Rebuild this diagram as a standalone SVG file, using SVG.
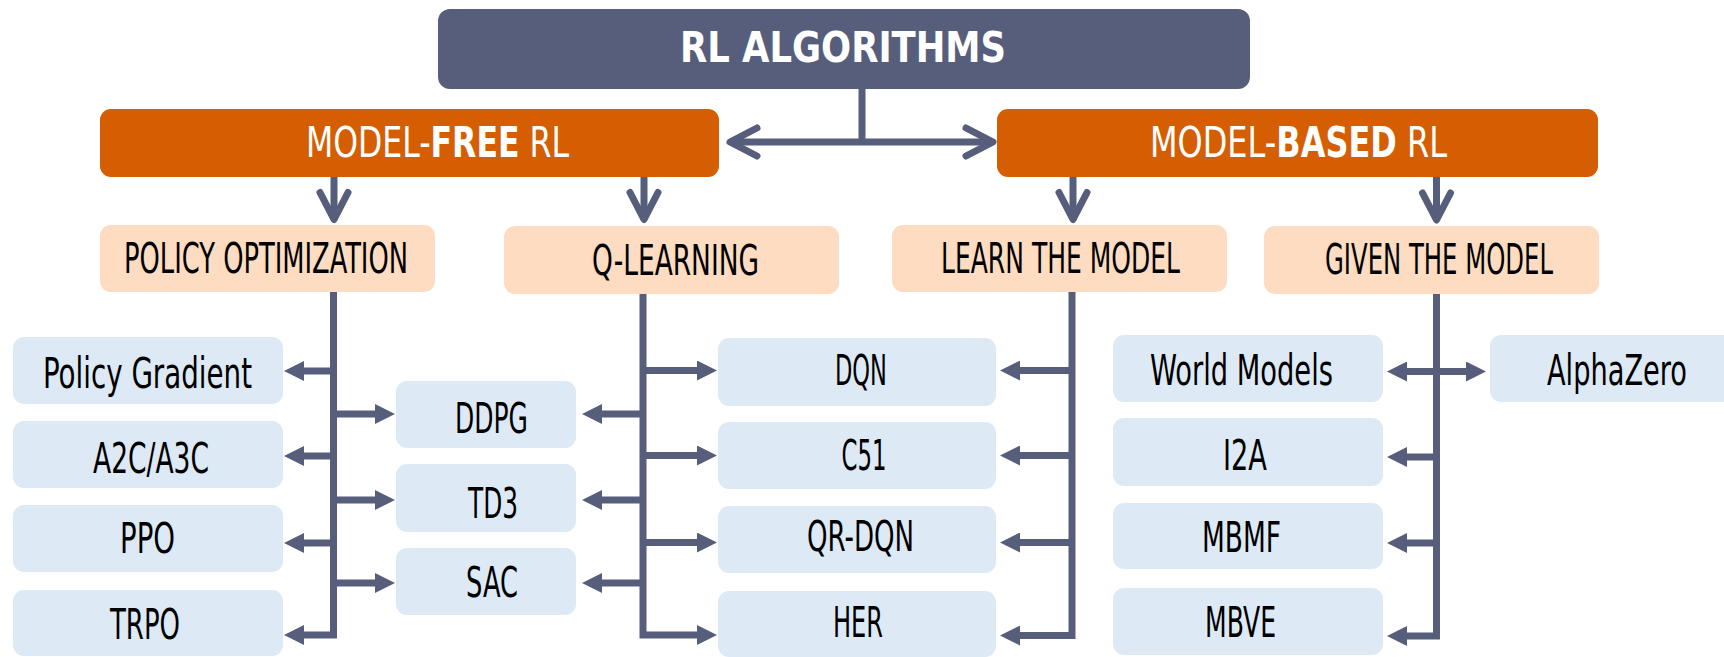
<svg xmlns="http://www.w3.org/2000/svg" width="1724" height="657" viewBox="0 0 1724 657">
  <style>
    .root { fill: #575e7b; }
    .family { fill: #d55e02; }
    .cat { fill: #fddcc1; }
    .leaf { fill: #ddeaf6; }
    text { font-family: "Liberation Sans Narrow", "DejaVu Sans Condensed", "Liberation Sans", sans-serif; font-size: 42px; }
    .t-root { fill: #ffffff; font-weight: 900; }
    .t-fam { fill: #ffffff; font-weight: 400; }
    .b { font-weight: 900; }
    .t-cat, .t-leaf { fill: #000000; font-weight: 400; }
    .link { fill: none; stroke: #575e7b; stroke-width: 7; stroke-linejoin: miter; }
    .thin { fill: none; stroke: #575e7b; stroke-width: 7; }
  </style>
  <defs>
    <!-- filled triangular head for branch arrows -->
    <marker id="head" markerUnits="userSpaceOnUse" markerWidth="20" markerHeight="20" refX="1" refY="10" orient="auto-start-reverse">
      <path d="M0,0 L20,10 L0,20 z" fill="#575e7b"/>
    </marker>
    <!-- open chevron head for the upper links -->
    <marker id="chev" markerUnits="userSpaceOnUse" markerWidth="40" markerHeight="40" refX="0" refY="0" orient="auto-start-reverse" overflow="visible">
      <path d="M-27,-14 L0,0 L-27,14" fill="none" stroke="#575e7b" stroke-width="7" stroke-linecap="round" stroke-linejoin="round"/>
    </marker>
  </defs>

  <!-- connectors -->
  <g id="connectors">
    <!-- root to the two families -->
    <path class="thin" d="M862,89 V142"/>
    <path class="thin" d="M730,142 H993" marker-start="url(#chev)" marker-end="url(#chev)"/>
    <!-- families to categories -->
    <path class="thin" d="M334,177 V219.5" marker-end="url(#chev)"/>
    <path class="thin" d="M644,177 V219.5" marker-end="url(#chev)"/>
    <path class="thin" d="M1073,177 V219.5" marker-end="url(#chev)"/>
    <path class="thin" d="M1436.5,177 V220" marker-end="url(#chev)"/>

    <!-- policy optimization trunk -->
    <path class="link" d="M333.5,292 V635 H303" marker-end="url(#head)"/>
    <path class="link" d="M333.5,371 H303" marker-end="url(#head)"/>
    <path class="link" d="M333.5,456 H303" marker-end="url(#head)"/>
    <path class="link" d="M333.5,543 H303" marker-end="url(#head)"/>
    <path class="link" d="M333.5,414 H376" marker-end="url(#head)"/>
    <path class="link" d="M333.5,500 H376" marker-end="url(#head)"/>
    <path class="link" d="M333.5,583 H376" marker-end="url(#head)"/>

    <!-- q-learning trunk -->
    <path class="link" d="M643,294 V635 H698" marker-end="url(#head)"/>
    <path class="link" d="M643,414 H601" marker-end="url(#head)"/>
    <path class="link" d="M643,500 H601" marker-end="url(#head)"/>
    <path class="link" d="M643,583 H601" marker-end="url(#head)"/>
    <path class="link" d="M643,370.5 H698" marker-end="url(#head)"/>
    <path class="link" d="M643,455.5 H698" marker-end="url(#head)"/>
    <path class="link" d="M643,542.5 H698" marker-end="url(#head)"/>

    <!-- learn-the-model trunk -->
    <path class="link" d="M1072,292 V635.5 H1019" marker-end="url(#head)"/>
    <path class="link" d="M1072,370.5 H1019" marker-end="url(#head)"/>
    <path class="link" d="M1072,455.5 H1019" marker-end="url(#head)"/>
    <path class="link" d="M1072,542.5 H1019" marker-end="url(#head)"/>

    <!-- given-the-model trunk -->
    <path class="link" d="M1436.5,294 V636 H1406" marker-end="url(#head)"/>
    <path class="link" d="M1406,371.5 H1467" marker-start="url(#head)" marker-end="url(#head)"/>
    <path class="link" d="M1436.5,457 H1406" marker-end="url(#head)"/>
    <path class="link" d="M1436.5,543 H1406" marker-end="url(#head)"/>
  </g>

  <!-- root -->
  <g id="rl-algorithms">
    <rect class="root" x="438" y="9" width="812" height="80" rx="12"/>
    <text class="t-root" x="843" y="62" text-anchor="middle" textLength="326" lengthAdjust="spacingAndGlyphs">RL ALGORITHMS</text>
  </g>

  <!-- families -->
  <g id="model-free">
    <rect class="family" x="100" y="109" width="619" height="68" rx="11"/>
    <text class="t-fam" x="437.5" y="157" text-anchor="middle" textLength="263" lengthAdjust="spacingAndGlyphs">MODEL-<tspan class="b">FREE</tspan> RL</text>
  </g>
  <g id="model-based">
    <rect class="family" x="997" y="109" width="601" height="68" rx="11"/>
    <text class="t-fam" x="1298.5" y="157" text-anchor="middle" textLength="297" lengthAdjust="spacingAndGlyphs">MODEL-<tspan class="b">BASED</tspan> RL</text>
  </g>

  <!-- categories -->
  <g id="policy-optimization">
    <rect class="cat" x="100" y="225" width="335" height="67" rx="11"/>
    <text class="t-cat" x="266" y="273" text-anchor="middle" textLength="284" lengthAdjust="spacingAndGlyphs">POLICY OPTIMIZATION</text>
  </g>
  <g id="q-learning">
    <rect class="cat" x="504" y="226" width="335" height="68" rx="11"/>
    <text class="t-cat" x="675.5" y="275" text-anchor="middle" textLength="167" lengthAdjust="spacingAndGlyphs">Q-LEARNING</text>
  </g>
  <g id="learn-the-model">
    <rect class="cat" x="892" y="225" width="335" height="67" rx="11"/>
    <text class="t-cat" x="1060.5" y="273" text-anchor="middle" textLength="239" lengthAdjust="spacingAndGlyphs">LEARN THE MODEL</text>
  </g>
  <g id="given-the-model">
    <rect class="cat" x="1264" y="226" width="335" height="68" rx="11"/>
    <text class="t-cat" x="1439" y="274" text-anchor="middle" textLength="228" lengthAdjust="spacingAndGlyphs">GIVEN THE MODEL</text>
  </g>

  <!-- policy optimization leaves -->
  <g id="policy-gradient">
    <rect class="leaf" x="13" y="337" width="270" height="67" rx="11"/>
    <text class="t-leaf" x="147.5" y="388" text-anchor="middle" textLength="209" lengthAdjust="spacingAndGlyphs">Policy Gradient</text>
  </g>
  <g id="a2c-a3c">
    <rect class="leaf" x="13" y="421" width="270" height="67" rx="11"/>
    <text class="t-leaf" x="151" y="473" text-anchor="middle" textLength="116" lengthAdjust="spacingAndGlyphs">A2C/A3C</text>
  </g>
  <g id="ppo">
    <rect class="leaf" x="13" y="505" width="270" height="67" rx="11"/>
    <text class="t-leaf" x="147.5" y="553" text-anchor="middle" textLength="55" lengthAdjust="spacingAndGlyphs">PPO</text>
  </g>
  <g id="trpo">
    <rect class="leaf" x="13" y="590" width="270" height="66" rx="11"/>
    <text class="t-leaf" x="145" y="639" text-anchor="middle" textLength="70" lengthAdjust="spacingAndGlyphs">TRPO</text>
  </g>

  <!-- shared actor-critic leaves -->
  <g id="ddpg">
    <rect class="leaf" x="396" y="381" width="180" height="67" rx="11"/>
    <text class="t-leaf" x="491.5" y="433" text-anchor="middle" textLength="73" lengthAdjust="spacingAndGlyphs">DDPG</text>
  </g>
  <g id="td3">
    <rect class="leaf" x="396" y="464" width="180" height="68" rx="11"/>
    <text class="t-leaf" x="493" y="518" text-anchor="middle" textLength="50" lengthAdjust="spacingAndGlyphs">TD3</text>
  </g>
  <g id="sac">
    <rect class="leaf" x="396" y="548" width="180" height="67" rx="11"/>
    <text class="t-leaf" x="492" y="597" text-anchor="middle" textLength="52" lengthAdjust="spacingAndGlyphs">SAC</text>
  </g>

  <!-- q-learning leaves -->
  <g id="dqn">
    <rect class="leaf" x="718" y="338" width="278" height="68" rx="11"/>
    <text class="t-leaf" x="861" y="385" text-anchor="middle" textLength="52" lengthAdjust="spacingAndGlyphs">DQN</text>
  </g>
  <g id="c51">
    <rect class="leaf" x="718" y="422" width="278" height="67" rx="11"/>
    <text class="t-leaf" x="864" y="470" text-anchor="middle" textLength="45" lengthAdjust="spacingAndGlyphs">C51</text>
  </g>
  <g id="qr-dqn">
    <rect class="leaf" x="718" y="506" width="278" height="67" rx="11"/>
    <text class="t-leaf" x="860.5" y="551" text-anchor="middle" textLength="107" lengthAdjust="spacingAndGlyphs">QR-DQN</text>
  </g>
  <g id="her">
    <rect class="leaf" x="718" y="591" width="278" height="66" rx="11"/>
    <text class="t-leaf" x="858" y="637" text-anchor="middle" textLength="50" lengthAdjust="spacingAndGlyphs">HER</text>
  </g>

  <!-- model-based leaves -->
  <g id="world-models">
    <rect class="leaf" x="1113" y="335" width="270" height="67" rx="11"/>
    <text class="t-leaf" x="1241.5" y="385" text-anchor="middle" textLength="183" lengthAdjust="spacingAndGlyphs">World Models</text>
  </g>
  <g id="i2a">
    <rect class="leaf" x="1113" y="418" width="270" height="68" rx="11"/>
    <text class="t-leaf" x="1245" y="470" text-anchor="middle" textLength="44" lengthAdjust="spacingAndGlyphs">I2A</text>
  </g>
  <g id="mbmf">
    <rect class="leaf" x="1113" y="503" width="270" height="66" rx="11"/>
    <text class="t-leaf" x="1241.5" y="552" text-anchor="middle" textLength="79" lengthAdjust="spacingAndGlyphs">MBMF</text>
  </g>
  <g id="mbve">
    <rect class="leaf" x="1113" y="588" width="270" height="67" rx="11"/>
    <text class="t-leaf" x="1240.5" y="637" text-anchor="middle" textLength="71" lengthAdjust="spacingAndGlyphs">MBVE</text>
  </g>
  <g id="alphazero">
    <!-- runs off the right edge: only the left corners are rounded -->
    <path class="leaf" d="M1501,335 H1724 V402 H1501 A11,11 0 0 1 1490,391 V346 A11,11 0 0 1 1501,335 Z"/>
    <text class="t-leaf" x="1617" y="385" text-anchor="middle" textLength="140" lengthAdjust="spacingAndGlyphs">AlphaZero</text>
  </g>
</svg>
